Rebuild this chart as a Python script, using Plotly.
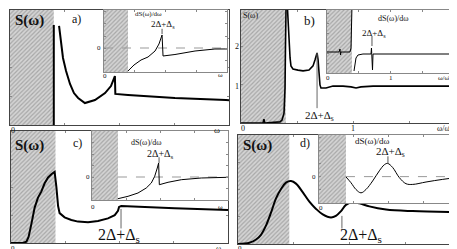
import plotly.graph_objects as go

W, H = 457, 249
def fx(p): return p / W
def fy(p): return 1 - p / H

# ---------------- DATA ----------------
# panel a (main): S(omega)
a_gap = 0.2
a_delta_top = 0.87
a_x = [0.224, 0.233, 0.242, 0.256, 0.274, 0.292, 0.311, 0.342, 0.388, 0.434, 0.461, 0.479, 0.481, 0.539, 0.753, 0.986, 1.0]
a_y = [0.861, 0.713, 0.583, 0.47, 0.357, 0.278, 0.235, 0.191, 0.217, 0.278, 0.339, 0.426, 0.270, 0.261, 0.235, 0.217, 0.215]
# panel a (inset): dS/domega
ai_gap = 0.195
ai_x = [0.195, 0.244, 0.301, 0.358, 0.415, 0.447, 0.472, 0.48, 0.577, 0.74, 0.902, 1.0]
ai_y = [-0.958, -0.708, -0.5, -0.375, -0.125, 0.167, 0.542, -0.333, -0.271, -0.125, -0.042, -0.04]
ai_peak = 0.472

# panel b (main)
b_gap = 0.4
b_x1 = [0, 0.196, 0.2, 0.205, 0.21, 0.214, 0.348, 0.366, 0.384, 0.393, 0.397, 0.402]
b_y1 = [0, 0, 0.05, 0.1, 0.02, 0, 0.03, 0.08, 0.26, 0.92, 1.97, 3.0]
b_x2 = [0.415, 0.42, 0.428, 0.438, 0.446, 0.464, 0.509, 0.554, 0.607, 0.643, 0.661, 0.679, 0.688, 0.696, 0.705, 0.714, 0.759, 0.821, 0.911, 0.982, 1.027, 1.071, 1.179, 1.955]
b_y2 = [3.0, 2.63, 2.16, 1.71, 1.5, 1.42, 1.39, 1.37, 1.39, 1.5, 1.66, 1.84, 1.66, 1.32, 1.0, 0.92, 0.92, 0.97, 0.97, 0.95, 0.92, 0.95, 0.97, 0.97]
b_peak = 0.679
# panel b (inset)
bi_gap = 0.39
bi_x1 = [0, 0.1875, 0.203, 0.211, 0.219, 0.359, 0.375, 0.383, 0.39]
bi_y1 = [0.05, 0.05, 0.2, -0.1, 0.05, 0.05, 0.25, 1.25, 2.3]
bi_x2 = [0.422, 0.4375, 0.453, 0.484, 0.5625, 0.6875, 0.695, 0.711, 0.719, 2.016]
bi_y2 = [-0.9, -0.5, -0.25, -0.1, -0.05, -0.05, 0.25, -0.85, -0.05, -0.05]
bi_peak = 0.703

# panel c (main)
c_gap = 0.205
c_x = [0, 0.055, 0.071, 0.081, 0.094, 0.109, 0.124, 0.14, 0.155, 0.171, 0.186, 0.201, 0.209, 0.217, 0.224, 0.247, 0.278, 0.309, 0.355, 0.401, 0.447, 0.478, 0.493, 0.498, 0.508, 0.6, 0.754, 1.0]
c_y = [0, 0, 0.012, 0.055, 0.171, 0.316, 0.403, 0.461, 0.533, 0.585, 0.614, 0.635, 0.504, 0.33, 0.267, 0.229, 0.206, 0.191, 0.185, 0.197, 0.22, 0.249, 0.287, 0.322, 0.33, 0.322, 0.31, 0.295]
c_peak = 0.507
# panel c (inset)
ci_gap = 0.191
ci_x = [0.191, 0.265, 0.338, 0.399, 0.436, 0.461, 0.48, 0.49, 0.495, 0.559, 0.657, 0.804, 1.0]
ci_y = [-0.943, -0.839, -0.696, -0.478, -0.261, 0.03, 0.391, 0.609, -0.335, -0.23, -0.117, -0.043, -0.013]
ci_peak = 0.493

# panel d (main)
d_gap = 0.23
d_x = [0, 0.051, 0.081, 0.103, 0.126, 0.148, 0.17, 0.193, 0.215, 0.238, 0.26, 0.29, 0.32, 0.35, 0.38, 0.417, 0.439, 0.462, 0.484, 0.514, 0.544, 0.589, 0.664, 0.783, 1.0]
d_y = [0.0, 0.011, 0.041, 0.084, 0.171, 0.287, 0.417, 0.504, 0.563, 0.577, 0.554, 0.476, 0.389, 0.322, 0.272, 0.243, 0.258, 0.302, 0.359, 0.383, 0.374, 0.345, 0.316, 0.302, 0.293]
d_peak = 0.466
# panel d (inset)
di_gap = 0.194
di_x = [0.194, 0.23, 0.266, 0.302, 0.338, 0.386, 0.434, 0.47, 0.494, 0.53, 0.578, 0.626, 0.674, 0.77, 0.89, 1.0]
di_y = [-0.012, -0.231, -0.488, -0.615, -0.488, -0.165, 0.219, 0.45, 0.5, 0.346, -0.038, -0.269, -0.296, -0.204, -0.104, -0.03]
di_peak = 0.496

# ---------------- LAYOUT HELPERS ----------------
panels = {
    1: ((2, 2, 221, 117), [0, 1], [0, 1], 'main'),
    2: ((96, 2, 219, 64), [0, 1], [-1, 1.583], 'inset'),
    3: ((233, 2, 452, 115), [0, 1.955], [0, 2.97], 'main'),
    4: ((319, 2, 448, 65), [0, 2.016], [-1, 2.15], 'inset'),
    5: ((3, 123, 220, 235), [0, 1], [0, 1], 'main'),
    6: ((84, 123, 220, 192), [0, 1], [-1, 2], 'inset'),
    7: ((230, 127, 453, 236), [0, 1], [0, 1], 'main'),
    8: ((311, 127, 450, 195), [0, 1], [-1, 1.577], 'inset'),
}

fig = go.Figure()
PAT = dict(shape='/', fgcolor='#7a7a7a', bgcolor='#d4d4d4', size=3, solidity=0.4)

def ax(i):
    return ('x' if i == 1 else f'x{i}'), ('y' if i == 1 else f'y{i}')

def rect(i, x0, x1, y0, y1, **kw):
    xa, ya = ax(i)
    fig.add_trace(go.Scatter(x=[x0, x1, x1, x0, x0], y=[y0, y0, y1, y1, y0], mode='lines',
                             fill='toself', line=dict(width=0), hoverinfo='skip',
                             xaxis=xa, yaxis=ya, **kw))

def line(i, x, y, color='black', width=2, dash=None, shape='linear'):
    xa, ya = ax(i)
    fig.add_trace(go.Scatter(x=x, y=y, mode='lines', xaxis=xa, yaxis=ya, hoverinfo='skip',
                             line=dict(color=color, width=width, dash=dash, shape=shape)))

gaps = {1: a_gap, 2: ai_gap, 3: b_gap, 4: bi_gap, 5: c_gap, 6: ci_gap, 7: d_gap, 8: di_gap}
for i, (box, xr, yr, kind) in panels.items():
    if kind == 'inset':
        rect(i, xr[0], xr[1], yr[0], yr[1], fillcolor='white')
    rect(i, xr[0], gaps[i], yr[0], yr[1], fillcolor='rgba(0,0,0,0)', fillpattern=PAT)

# panel a
line(1, [a_gap, a_gap], [0, a_delta_top], width=2)
line(1, a_x, a_y, width=2)
line(2, [0, 1], [0, 0], color='#999', width=1, dash='dash')
line(2, ai_x, ai_y, width=1)
line(2, [ai_peak, ai_peak], [0.58, 0.8], color='#555', width=1)
# panel b
line(3, b_x1, b_y1, width=1.6)
line(3, b_x2, b_y2, width=1.6)
line(3, [b_peak, b_peak], [1.84, 0.39], color='#666', width=1)
line(4, bi_x1, bi_y1, width=1)
line(4, bi_x2, bi_y2, width=1)
line(4, [bi_peak, bi_peak], [0.35, 0.85], color='#555', width=1)
# panel c
line(5, c_x, c_y, width=2)
line(5, [c_peak, c_peak], [0.304, 0.13], color='#666', width=1)
line(6, [ci_gap, 1], [0, 0], color='#999', width=1, dash='dash')
line(6, ci_x, ci_y, width=1)
line(6, [ci_peak, ci_peak], [0.61, 0.86], color='#555', width=1)
# panel d
line(7, d_x, d_y, width=2, shape='spline')
line(7, [d_peak, d_peak], [0.258, 0.142], color='#666', width=1)
line(8, [di_gap, 1], [0, 0], color='#999', width=1, dash='dash')
line(8, di_x, di_y, width=1, shape='spline')
line(8, [di_peak, di_peak], [0.5, 0.77], color='#555', width=1)

layout = dict(width=W, height=H, margin=dict(l=0, r=0, t=0, b=0), autosize=False,
              paper_bgcolor='white', plot_bgcolor='white', showlegend=False)
for i, (box, xr, yr, kind) in panels.items():
    l, t, r, b = box
    xa, ya = ax(i)
    xk = 'xaxis' if i == 1 else f'xaxis{i}'
    yk = 'yaxis' if i == 1 else f'yaxis{i}'
    lc = '#444' if kind == 'main' else '#888'
    common = dict(showgrid=False, zeroline=False, showline=True, mirror='ticks', linecolor=lc,
                  linewidth=1, ticks='inside', ticklen=2, tickcolor='#888', showticklabels=False,
                  fixedrange=True)
    xd = 0.5 if i in (3, 4) else 0.25
    layout[xk] = dict(domain=[fx(l), fx(r)], range=xr, anchor=ya, dtick=xd, tick0=0, **common)
    layout[yk] = dict(domain=[fy(b), fy(t)], range=yr, anchor=xa,
                      dtick=(1 if i == 3 else (0.5 if kind == 'inset' else 0.25)), tick0=0, **common)

SER = 'Liberation Serif'
ann = []
def txt(x, y, s, size=8, bold=False, color='#111'):
    ann.append(dict(x=fx(x), y=fy(y), xref='paper', yref='paper', text=(f'<b>{s}</b>' if bold else s),
                    showarrow=False, xanchor='center', yanchor='middle', borderpad=0,
                    font=dict(family=SER, size=size, color=color)))

D = '2Δ+Δ<sub>s</sub>'
WB = 'ω/ω\u0304'
# a
txt(21, 13, 'S(ω)', 15, True); txt(68, 11, 'a)', 12)
txt(5, 122, '0', 8); txt(209, 122, 'ω', 9)
txt(140, 6, 'dS(ω)/dω', 7); txt(155, 17, D, 9)
txt(91, 40, '0', 7); txt(97, 68, '0', 7); txt(212, 67, 'ω', 7)
# b
txt(243, 7, 'S(ω)', 8); txt(301, 13, 'b)', 13)
txt(229, 39, '2', 8); txt(229, 78, '1', 8)
txt(235, 120, '0', 8); txt(345, 120, '1', 8); txt(436, 120, WB, 8)
txt(311, 108, D, 11)
txt(385, 10, 'dS(ω)/dω', 8); txt(366, 25, D, 9)
txt(320, 70, '0', 7); txt(383, 70, '1', 7); txt(436, 70, WB, 7)
# c
txt(21, 137, 'S(ω)', 15, True); txt(69, 135, 'c)', 12)
txt(5, 240, '0', 7); txt(210, 240, 'ω', 8)
txt(111, 227, D, 16)
txt(138, 134, 'dS(ω)/dω', 8); txt(152, 146, D, 10)
txt(80, 169, '0', 7); txt(85, 199, '0', 7); txt(212, 199, 'ω', 7)
# d
txt(232, 240, '0', 7); txt(445, 240, 'ω', 8)
txt(250, 137, 'S(ω)', 15, True); txt(297, 135, 'd)', 12)
txt(353, 227, D, 16)
txt(364, 133, 'dS(ω)/dω', 9); txt(382, 144, D, 11)
txt(306, 169, '0', 7); txt(313, 200, '0', 7); txt(443, 200, 'ω', 7)

layout['annotations'] = ann
fig.update_layout(**layout)
fig.write_html('out.html')
